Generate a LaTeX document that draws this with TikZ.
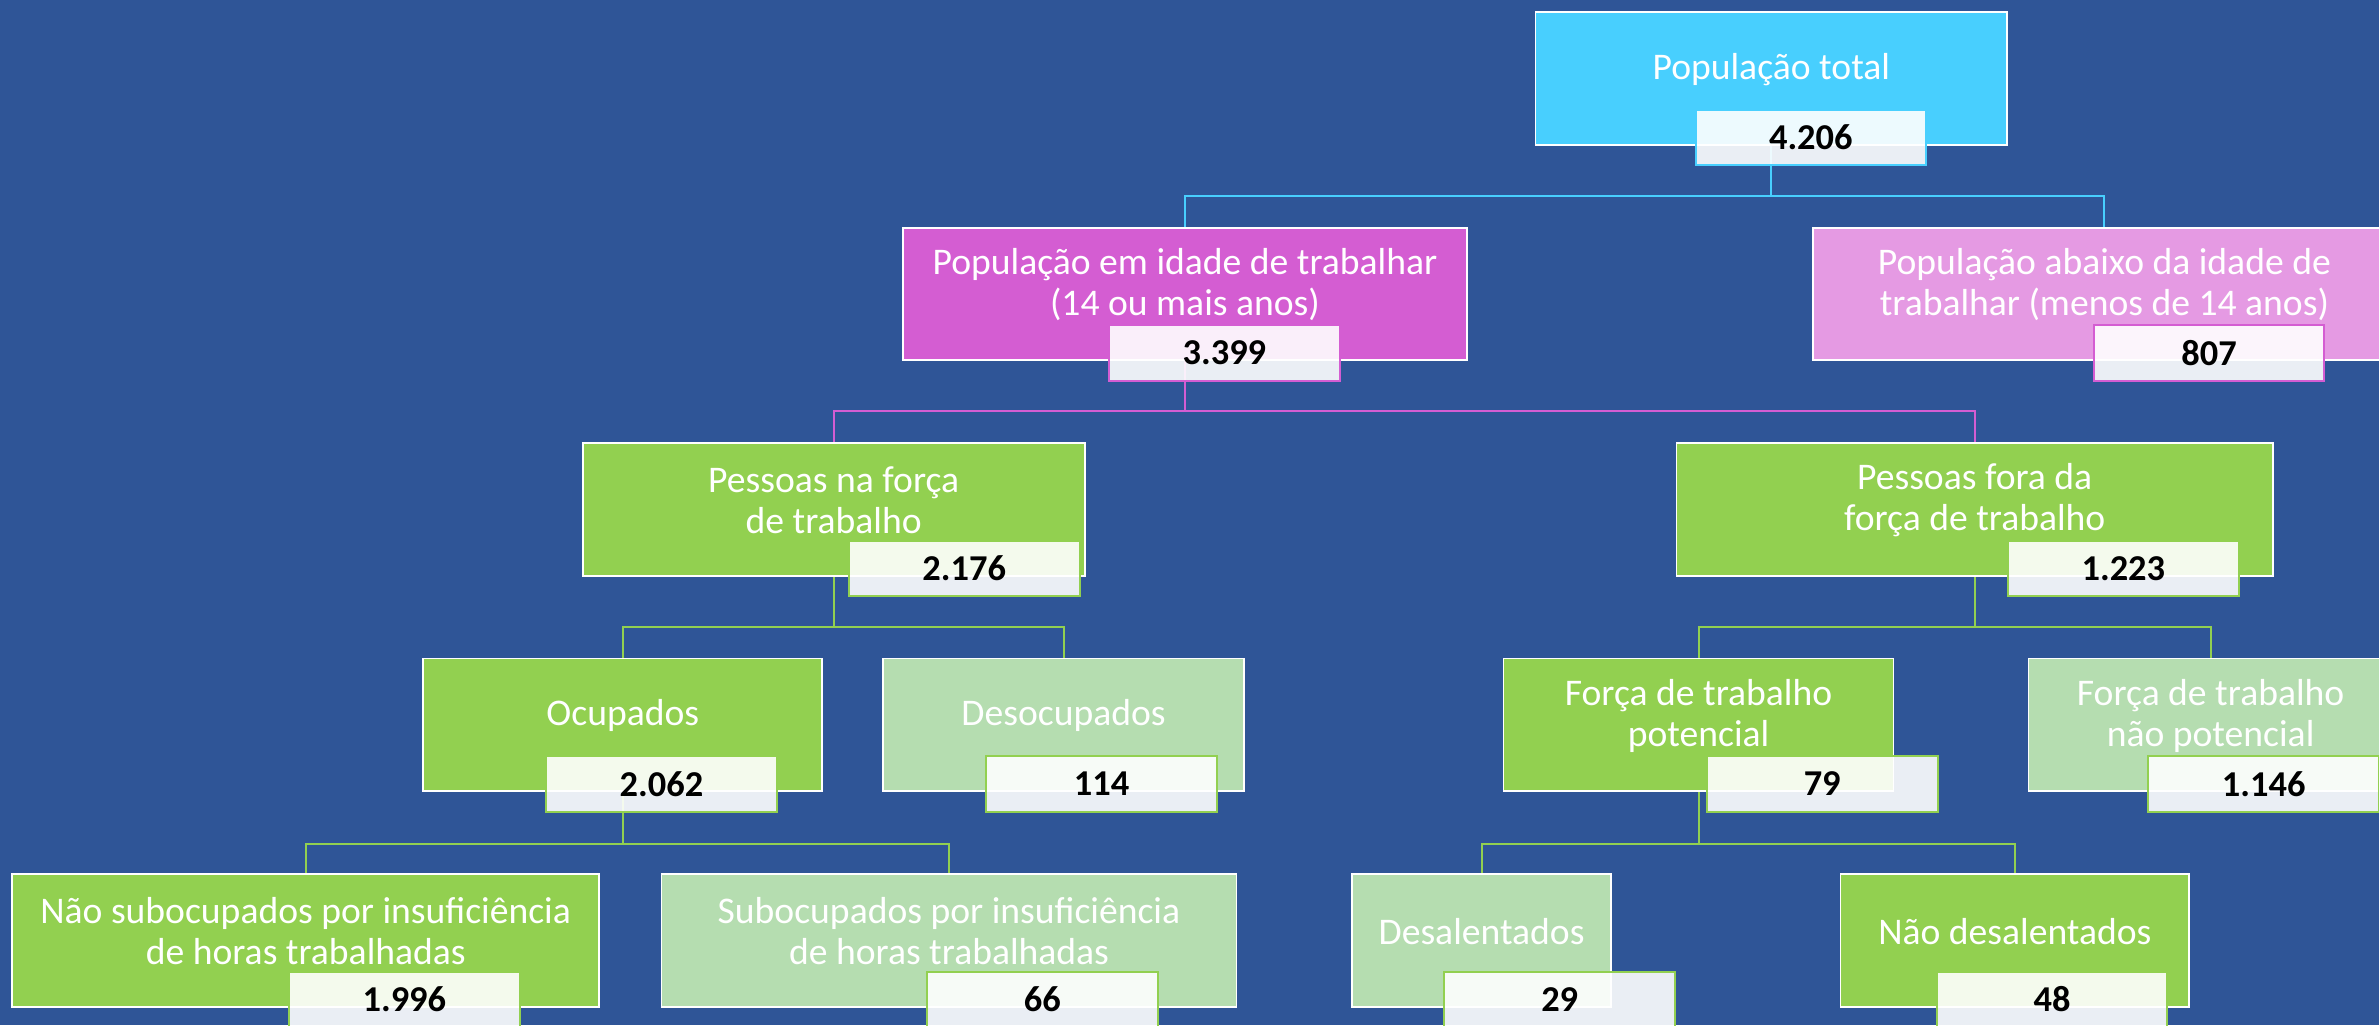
\documentclass[tikz,border=0pt]{standalone}
\usepackage{fontspec}
\setmainfont{Carlito}
\definecolor{bgc}{HTML}{2F5597}
\definecolor{cyanc}{HTML}{48CFFE}
\definecolor{magc}{HTML}{D45DD2}
\definecolor{lmagc}{HTML}{E59AE3}
\definecolor{grc}{HTML}{92D050}
\definecolor{lgrc}{HTML}{B5DDB0}
\pgfdeclarelayer{back}
\pgfdeclarelayer{lines}
\pgfsetlayers{back,lines,main}
\begin{document}
\begin{tikzpicture}[x=1pt,y=-1pt,
  box/.style={draw=white, line width=1.2pt, minimum height=87.5pt, inner sep=0pt},
  lbl/.style={text=white, align=center, font=\fontsize{24.8}{27}\selectfont, inner sep=0pt},
  val/.style={fill=white, fill opacity=0.9, text opacity=1, line width=1.3pt,
    minimum width=152pt, minimum height=36.5pt, inner sep=0pt,
    font=\fontsize{24}{26.5}\selectfont\bfseries, text=black},
  conn/.style={line width=1.3pt}]
\begin{pgfonlayer}{back}
\fill[bgc] (0,0) rectangle (1568,675.6);
\end{pgfonlayer}
\useasboundingbox (0,0) rectangle (1568,675.6);

% row 1
\node[box, fill=cyanc, minimum width=311pt] (tot) at (1167.5,51.75) {};
\node[lbl] (totT) at (1167.5,45.75) {População total};
\node[val, draw=cyanc] (totV) at (1193.5,90.75) {4.206};

% row 2
\node[box, fill=magc, minimum width=372pt] (pit) at (781,193.75) {};
\node[lbl] (pitT) at (781,187.75) {População em idade de trabalhar\\(14 ou mais anos)};
\node[val, draw=magc] (pitV) at (807,232.75) {3.399};

\node[box, fill=lmagc, minimum width=384pt] (pab) at (1387,193.75) {};
\node[lbl] (pabT) at (1387,187.75) {População abaixo da idade de\\trabalhar (menos de 14 anos)};
\node[val, draw=magc] (pabV) at (1456,232.75) {807};

% row 3
\node[box, fill=grc, minimum width=331pt] (pna) at (549.5,335.75) {};
\node[lbl] (pnaT) at (549.5,329.75) {Pessoas na força\\de trabalho};
\node[val, draw=grc] (pnaV) at (635.5,374.75) {2.176};

\node[box, fill=grc, minimum width=393pt] (pfo) at (1301.5,335.75) {};
\node[lbl] (pfoT) at (1301.5,329.75) {Pessoas fora da\\força de trabalho};
\node[val, draw=grc] (pfoV) at (1399.5,374.75) {1.223};

% row 4
\node[box, fill=grc, minimum width=263pt] (ocu) at (410.5,477.75) {};
\node[lbl] (ocuT) at (410.5,471.75) {Ocupados};
\node[val, draw=grc] (ocuV) at (436,516.75) {2.062};

\node[box, fill=lgrc, minimum width=238pt] (des) at (701,477.75) {};
\node[lbl] (desT) at (701,471.75) {Desocupados};
\node[val, draw=grc] (desV) at (726,516.75) {114};

\node[box, fill=grc, minimum width=257pt] (ftp) at (1119.5,477.75) {};
\node[lbl] (ftpT) at (1119.5,471.75) {Força de trabalho\\potencial};
\node[val, draw=grc] (ftpV) at (1201,516.75) {79};

\node[box, fill=lgrc, minimum width=240pt] (ftn) at (1457,477.75) {};
\node[lbl] (ftnT) at (1457,471.75) {Força de trabalho\\não potencial};
\node[val, draw=grc] (ftnV) at (1492,516.75) {1.146};

% row 5
\node[box, fill=grc, minimum width=387pt] (nsu) at (201.5,619.75) {};
\node[lbl] (nsuT) at (201.5,613.75) {Não subocupados por insuficiência\\de horas trabalhadas};
\node[val, draw=grc] (nsuV) at (266.5,658.75) {1.996};

\node[box, fill=lgrc, minimum width=379pt] (sub) at (625.5,619.75) {};
\node[lbl] (subT) at (625.5,613.75) {Subocupados por insuficiência\\de horas trabalhadas};
\node[val, draw=grc] (subV) at (687,658.75) {66};

\node[box, fill=lgrc, minimum width=171pt] (dsl) at (976.5,619.75) {};
\node[lbl] (dslT) at (976.5,613.75) {Desalentados};
\node[val, draw=grc] (dslV) at (1028,658.75) {29};

\node[box, fill=grc, minimum width=230pt] (nds) at (1328,619.75) {};
\node[lbl] (ndsT) at (1328,613.75) {Não desalentados};
\node[val, draw=grc] (ndsV) at (1352.5,658.75) {48};

% connectors
\coordinate (bus1) at (0,129);
\coordinate (bus2) at (0,271);
\coordinate (bus3) at (0,413.3);
\coordinate (bus4) at (0,556);
\begin{pgfonlayer}{lines}
\draw[conn, cyanc] (tot.south) -- (tot.south |- bus1) -| (pit.north);
\draw[conn, cyanc] (tot.south |- bus1) -| (pab.north);
\draw[conn, magc] (pit.south) -- (pit.south |- bus2) -| (pna.north);
\draw[conn, magc] (pit.south |- bus2) -| (pfo.north);
\draw[conn, grc] (pna.south) -- (pna.south |- bus3) -| (ocu.north);
\draw[conn, grc] (pna.south |- bus3) -| (des.north);
\draw[conn, grc] (pfo.south) -- (pfo.south |- bus3) -| (ftp.north);
\draw[conn, grc] (pfo.south |- bus3) -| (ftn.north);
\draw[conn, grc] (ocu.south) -- (ocu.south |- bus4) -| (nsu.north);
\draw[conn, grc] (ocu.south |- bus4) -| (sub.north);
\draw[conn, grc] (ftp.south) -- (ftp.south |- bus4) -| (dsl.north);
\draw[conn, grc] (ftp.south |- bus4) -| (nds.north);
\end{pgfonlayer}
\end{tikzpicture}
\end{document}
